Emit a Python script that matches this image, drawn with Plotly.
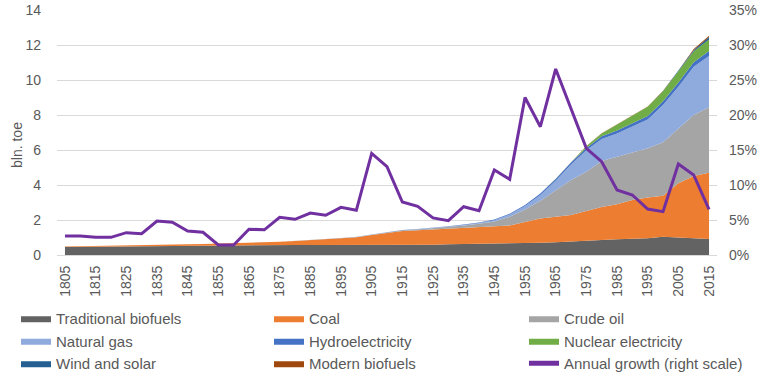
import plotly.graph_objects as go

years = [1805, 1810, 1815, 1820, 1825, 1830, 1835, 1840, 1845, 1850, 1855, 1860, 1865, 1870, 1875,
         1880, 1885, 1890, 1895, 1900, 1905, 1910, 1915, 1920, 1925, 1930, 1935, 1940, 1945, 1950,
         1955, 1960, 1965, 1970, 1975, 1980, 1985, 1990, 1995, 2000, 2005, 2010, 2015]

traditional_biofuels = [0.46, 0.47, 0.48, 0.49, 0.50, 0.51, 0.52, 0.53, 0.54, 0.55, 0.56, 0.56, 0.57, 0.57, 0.57,
                        0.57, 0.57, 0.57, 0.57, 0.57, 0.57, 0.57, 0.58, 0.58, 0.59, 0.62, 0.63, 0.63, 0.63, 0.64,
                        0.66, 0.70, 0.73, 0.78, 0.81, 0.86, 0.90, 0.93, 0.96, 1.05, 1.02, 0.97, 0.92]
coal = [0.03, 0.03, 0.04, 0.04, 0.05, 0.05, 0.06, 0.07, 0.07, 0.08, 0.09, 0.10, 0.11, 0.15, 0.19,
        0.23, 0.28, 0.33, 0.38, 0.45, 0.58, 0.70, 0.79, 0.83, 0.86, 0.88, 0.92, 0.97, 1.01, 1.04,
        1.22, 1.38, 1.46, 1.51, 1.70, 1.88, 2.00, 2.21, 2.32, 2.34, 3.08, 3.54, 3.78]
crude_oil = [0, 0, 0, 0, 0, 0, 0, 0, 0, 0, 0, 0, 0, 0.002, 0.004,
             0.006, 0.008, 0.01, 0.012, 0.015, 0.02, 0.03, 0.04, 0.05, 0.07, 0.10, 0.13, 0.18, 0.28, 0.51,
             0.72, 1.02, 1.51, 2.00, 2.25, 2.63, 2.72, 2.71, 2.82, 3.05, 3.14, 3.49, 3.74]
natural_gas = [0, 0, 0, 0, 0, 0, 0, 0, 0, 0, 0, 0, 0, 0, 0,
               0.002, 0.003, 0.004, 0.005, 0.005, 0.006, 0.008, 0.01, 0.015, 0.02, 0.03, 0.04, 0.05, 0.07, 0.12,
               0.20, 0.33, 0.55, 0.88, 1.22, 1.26, 1.33, 1.48, 1.65, 2.13, 2.38, 2.76, 2.93]
hydroelectricity = [0, 0, 0, 0, 0, 0, 0, 0, 0, 0, 0, 0, 0, 0, 0,
                    0, 0, 0, 0.001, 0.003, 0.005, 0.007, 0.01, 0.012, 0.015, 0.02, 0.025, 0.03, 0.04, 0.05,
                    0.06, 0.08, 0.10, 0.11, 0.14, 0.15, 0.17, 0.19, 0.20, 0.21, 0.24, 0.26, 0.29]
nuclear_electricity = [0, 0, 0, 0, 0, 0, 0, 0, 0, 0, 0, 0, 0, 0, 0,
                       0, 0, 0, 0, 0, 0, 0, 0, 0, 0, 0, 0, 0, 0, 0,
                       0, 0, 0.005, 0.02, 0.10, 0.17, 0.33, 0.45, 0.52, 0.58, 0.63, 0.63, 0.66]
wind_and_solar = [0, 0, 0, 0, 0, 0, 0, 0, 0, 0, 0, 0, 0, 0, 0,
                  0, 0, 0, 0, 0, 0, 0, 0, 0, 0, 0, 0, 0, 0, 0,
                  0, 0, 0, 0, 0, 0, 0, 0.001, 0.003, 0.006, 0.02, 0.06, 0.13]
modern_biofuels = [0, 0, 0, 0, 0, 0, 0, 0, 0, 0, 0, 0, 0, 0, 0,
                   0, 0, 0, 0, 0, 0, 0, 0, 0, 0, 0, 0, 0, 0, 0,
                   0, 0, 0, 0, 0.002, 0.003, 0.004, 0.005, 0.01, 0.015, 0.03, 0.06, 0.08]
annual_growth = [2.71, 2.71, 2.52, 2.52, 3.19, 3.05, 4.86, 4.67, 3.43, 3.24, 1.43, 1.43, 3.69, 3.60, 5.38,
                 5.10, 6.00, 5.67, 6.81, 6.38, 14.52, 12.62, 7.57, 6.95, 5.30, 4.90, 6.90, 6.33, 12.14, 10.80,
                 22.50, 18.33, 26.57, 20.80, 15.24, 13.33, 9.29, 8.57, 6.57, 6.19, 13.00, 11.43, 6.52]

tick_years = [1805, 1815, 1825, 1835, 1845, 1855, 1865, 1875, 1885, 1895, 1905, 1915, 1925, 1935,
              1945, 1955, 1965, 1975, 1985, 1995, 2005, 2015]
left_ticks = [0, 2, 4, 6, 8, 10, 12, 14]
right_ticks = [0, 5, 10, 15, 20, 25, 30, 35]
right_labels = ["0%", "5%", "10%", "15%", "20%", "25%", "30%", "35%"]

FONT = "Liberation Sans"
TXT = "#595959"

series = [
    ("Traditional biofuels", traditional_biofuels, "#636363", "legend"),
    ("Coal", coal, "#ED7D31", "legend2"),
    ("Crude oil", crude_oil, "#A5A5A5", "legend3"),
    ("Natural gas", natural_gas, "#8FAADC", "legend"),
    ("Hydroelectricity", hydroelectricity, "#4472C4", "legend2"),
    ("Nuclear electricity", nuclear_electricity, "#70AD47", "legend3"),
    ("Wind and solar", wind_and_solar, "#255E91", "legend"),
    ("Modern biofuels", modern_biofuels, "#9E480E", "legend2"),
]

fig = go.Figure()
for name, vals, color, lg in series:
    fig.add_trace(go.Scatter(
        x=years, y=vals, name=name, mode="lines", stackgroup="one",
        line=dict(width=0, color=color), fillcolor=color, legend=lg,
    ))

fig.add_trace(go.Scatter(
    x=years, y=annual_growth, name="Annual growth (right scale)", mode="lines",
    line=dict(color="#7030A0", width=3), yaxis="y2", legend="legend3",
))

W, H = 766, 381
L, R, T, B = 57, 49, 10, 126

leg_common = dict(
    orientation="v", xref="container", yref="container", yanchor="top", xanchor="left",
    y=1 - 302 / H, font=dict(family=FONT, size=15, color=TXT), bgcolor="rgba(0,0,0,0)",
    tracegroupgap=0, itemsizing="constant", traceorder="normal",
)

fig.update_layout(
    width=W, height=H,
    margin=dict(l=L, r=R, t=T, b=B, autoexpand=False),
    plot_bgcolor="white", paper_bgcolor="white",
    font=dict(family=FONT, size=14, color=TXT),
    showlegend=True,
    legend=dict(x=16 / W, **leg_common),
    legend2=dict(x=269 / W, **leg_common),
    legend3=dict(x=524 / W, **leg_common),
    xaxis=dict(
        range=[1802.4, 2017.6], tickvals=tick_years, ticktext=[str(t) for t in tick_years],
        tickangle=-90, showgrid=False, zeroline=False, showline=True, linecolor="#D9D9D9",
        ticks="", tickfont=dict(family=FONT, size=14, color=TXT), ticklabelstandoff=4,
        automargin=False,
    ),
    yaxis=dict(
        range=[0, 14], tickvals=left_ticks, showgrid=True, gridcolor="#D9D9D9", gridwidth=1,
        zeroline=False, ticks="", tickfont=dict(family=FONT, size=14, color=TXT),
        ticklabelstandoff=15, automargin=False,
    ),
    yaxis2=dict(
        range=[0, 35], tickvals=right_ticks, ticktext=right_labels, overlaying="y", side="right",
        showgrid=False, zeroline=False, ticks="", tickfont=dict(family=FONT, size=14, color=TXT),
        ticklabelstandoff=11, automargin=False,
    ),
    annotations=[dict(
        text="bln. toe", textangle=-90, xref="paper", yref="paper",
        x=(17 - L) / (W - L - R), y=(255 - 145) / 245, showarrow=False,
        font=dict(family=FONT, size=14, color=TXT), xanchor="center", yanchor="middle",
    )],
)

# remove the browser's default 8px body margin so the figure fills the window exactly
fig.write_html(
    "out.html",
    config={"displayModeBar": False},
    post_script="document.body.style.margin='0';",
)
